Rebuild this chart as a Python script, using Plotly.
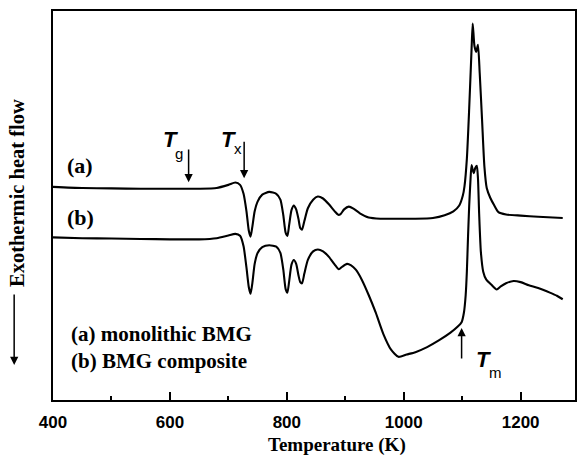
import plotly.graph_objects as go

# ---- data (temperature in K, heat flow in arbitrary units, 0 = x-axis, 100 = top frame) ----
temp_a = [400, 450, 500, 550, 600, 650, 680, 700, 712, 720, 726, 731, 735, 738, 741, 745, 750, 758,
          770, 782, 789, 794, 798, 801, 804, 808, 812, 816, 820, 823, 826, 830, 836, 845, 853, 862,
          872, 882, 888, 892, 898, 906, 914, 925, 940, 960, 990, 1020, 1050, 1070, 1085, 1095, 1101,
          1104, 1108, 1112, 1116, 1118, 1121, 1124, 1127, 1130, 1134, 1138, 1142, 1148, 1155, 1162,
          1175, 1200, 1230, 1272]
heat_a = [54.8, 54.5, 54.4, 54.3, 54.3, 54.3, 54.5, 55.3, 55.9, 55.3, 53.0, 48.5, 43.5, 42.0, 44.5,
          48.5, 51.0, 52.8, 53.5, 53.0, 51.5, 47.5, 43.0, 42.2, 45.0, 48.8, 50.0, 49.0, 46.5, 44.2,
          43.8, 46.0, 49.3, 51.5, 52.3, 51.8, 50.3, 48.5, 47.6, 47.8, 49.0, 49.7, 49.2, 48.0, 46.9,
          46.6, 46.6, 46.6, 46.8, 47.5, 48.5, 50.0, 52.5, 55.0, 62.0, 75.0, 90.0, 96.8, 91.0, 89.5,
          91.3, 84.0, 72.0, 60.0, 54.5, 52.0, 50.0, 48.3, 47.7, 47.4, 47.1, 46.8]

temp_b = [400, 450, 500, 550, 600, 650, 680, 700, 712, 720, 726, 731, 735, 738, 741, 745, 750, 758,
          770, 782, 789, 794, 798, 801, 804, 808, 812, 816, 820, 823, 826, 830, 836, 845, 853, 862,
          872, 882, 889, 895, 903, 910, 918, 928, 940, 952, 965, 978, 991, 1005, 1020, 1040, 1060,
          1080, 1092, 1099, 1103, 1106, 1108, 1110, 1112, 1114, 1116, 1118, 1120, 1122, 1125, 1127,
          1129, 1132, 1136, 1141, 1150, 1159, 1166, 1175, 1188, 1200, 1214, 1230, 1250, 1262, 1272]
heat_b = [41.8, 41.6, 41.5, 41.4, 41.3, 41.3, 41.6, 42.3, 42.7, 42.2, 39.5, 34.0, 29.0, 27.3, 30.0,
          35.0, 37.8, 39.3, 39.8, 39.4, 37.8, 33.5, 28.5, 27.6, 30.5, 34.8, 36.0, 35.0, 32.0, 30.3,
          30.0, 32.5, 36.0, 38.2, 38.7, 38.2, 36.8, 34.8, 33.6, 34.3, 35.0, 34.6, 33.5, 31.0, 27.0,
          22.5, 17.0, 13.0, 11.1, 11.7, 12.3, 13.6, 15.3, 17.3, 18.8, 20.0, 22.5, 27.0, 33.0, 42.0,
          50.0, 56.0, 60.4, 59.2, 58.3, 59.5, 60.2, 57.0, 48.0, 38.0, 33.0, 31.0, 29.6, 28.4, 29.2,
          30.0, 30.6, 30.3, 29.5, 28.8, 27.6, 26.8, 25.9]

tick_vals = [400, 600, 800, 1000, 1200]
tick_text = ["400", "600", "800", "1000", "1200"]
minor_vals = [500, 700, 900, 1100]

SERIF = "Liberation Serif"
SANS = "Liberation Sans"

fig = go.Figure()
fig.add_trace(go.Scatter(x=temp_a, y=heat_a, mode="lines",
                         line=dict(color="black", width=2.1, shape="spline", smoothing=0.6),
                         showlegend=False))
fig.add_trace(go.Scatter(x=temp_b, y=heat_b, mode="lines",
                         line=dict(color="black", width=2.1, shape="spline", smoothing=0.6),
                         showlegend=False))

ann = []
def txt(x, y, s, size, family=SERIF, xref="x", yref="y", xanchor="center", yanchor="middle", angle=0):
    ann.append(dict(x=x, y=y, xref=xref, yref=yref, text=s, showarrow=False,
                    font=dict(family=family, size=size, color="black"),
                    xanchor=xanchor, yanchor=yanchor, textangle=angle))

def arrow(x, y_head, y_tail):
    ann.append(dict(x=x, y=y_head, ax=x, ay=y_tail, xref="x", yref="y", axref="x", ayref="y",
                    text="", showarrow=True, arrowhead=2, arrowsize=1.1, arrowwidth=1.5,
                    arrowcolor="black"))

# curve labels
txt(447, 60.4, "<b>(a)</b>", 22)
txt(447, 46.9, "<b>(b)</b>", 22)
# legend text
txt(428, 16.9, "<b>(a) monolithic BMG</b>", 21, xanchor="left")
txt(428, 10.1, "<b>(b) BMG composite</b>", 21, xanchor="left")

# T_g
txt(601, 67.0, "<b><i>T</i></b>", 22, family=SANS)
txt(615, 63.4, "g", 15, family=SANS)
arrow(632, 56.0, 64.8)
# T_x
txt(701, 67.0, "<b><i>T</i></b>", 22, family=SANS)
txt(716, 64.7, "x", 15, family=SANS)
arrow(727, 57.0, 66.8)
# T_m
txt(1136, 10.5, "<b><i>T</i></b>", 22, family=SANS)
txt(1157, 7.0, "m", 15, family=SANS)
arrow(1099, 18.5, 10.3)

# y axis title with arrow
txt(-0.069, 0.532, "<b>Exothermic heat flow</b>", 20.5, xref="paper", yref="paper", angle=-90)
ann.append(dict(x=-0.0744, y=0.09, xref="paper", yref="paper", ax=0, ay=-72, text="",
                showarrow=True, arrowhead=2, arrowsize=1.1, arrowwidth=1.5, arrowcolor="black"))
# x axis title
txt(0.545, -0.1157, "<b>Temperature (K)</b>", 19, xref="paper", yref="paper")

fig.update_layout(
    width=578, height=458,
    margin=dict(l=53, r=1, t=11, b=58),
    paper_bgcolor="white", plot_bgcolor="white",
    annotations=ann,
    xaxis=dict(range=[400, 1293], tickvals=tick_vals, ticktext=tick_text,
               ticks="inside", ticklen=8, tickwidth=1.5, tickcolor="black",
               minor=dict(ticks="inside", ticklen=4, tickwidth=1.5, tickcolor="black",
                          tickvals=minor_vals),
               showline=True, linecolor="black", linewidth=2, mirror=True,
               showgrid=False, zeroline=False,
               tickfont=dict(family=SANS, size=17, color="black", weight="bold"),
               ticklabelstandoff=6),
    yaxis=dict(range=[0, 100], showticklabels=False, ticks="",
               showline=True, linecolor="black", linewidth=2, mirror=True,
               showgrid=False, zeroline=False),
)

fig.write_html("out.html")
